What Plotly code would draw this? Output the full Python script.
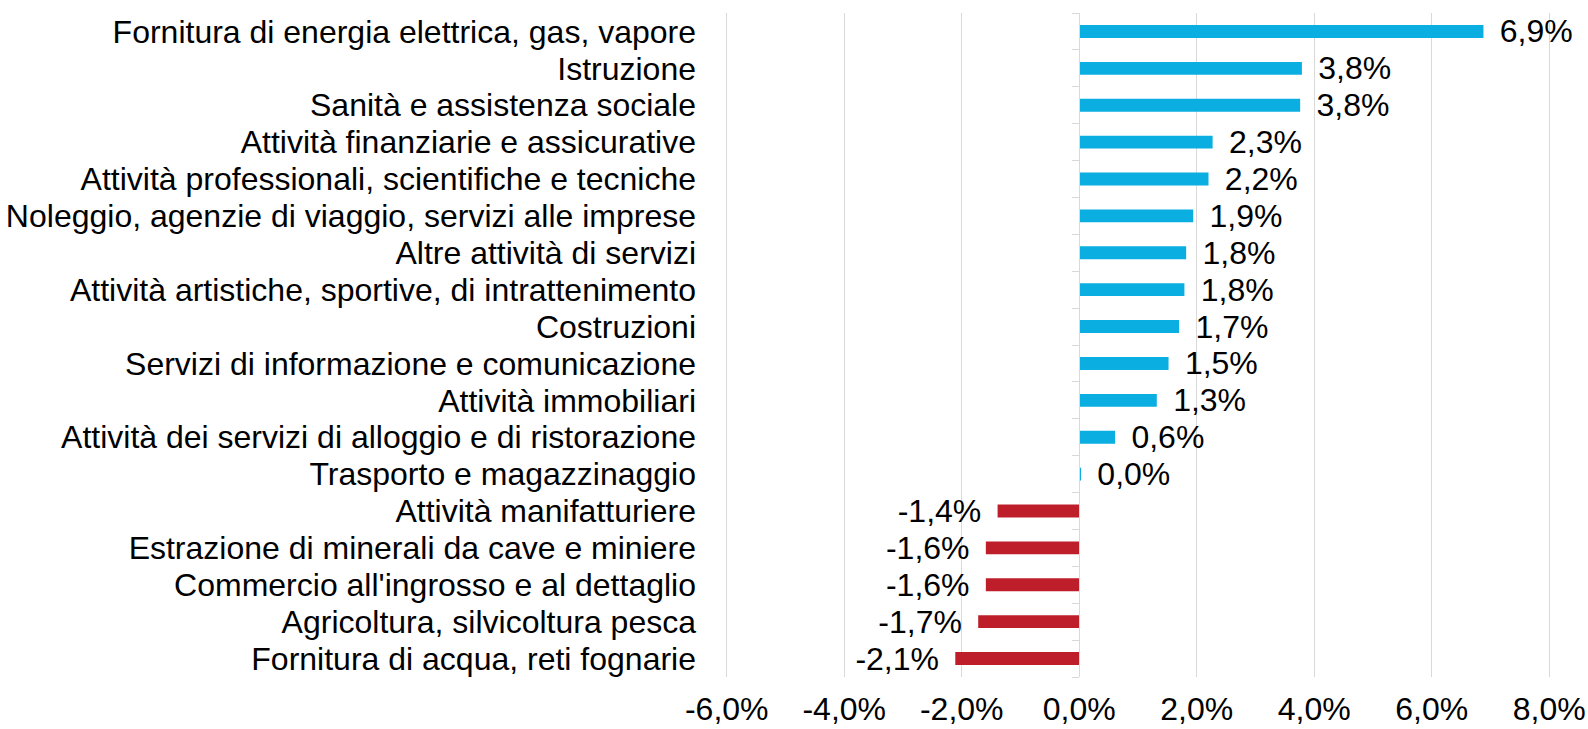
import plotly.graph_objects as go

categories = [
    "Fornitura di energia elettrica, gas, vapore",
    "Istruzione",
    "Sanità e assistenza sociale",
    "Attività finanziarie e assicurative",
    "Attività professionali, scientifiche e tecniche",
    "Noleggio, agenzie di viaggio, servizi alle imprese",
    "Altre attività di servizi",
    "Attività artistiche, sportive, di intrattenimento",
    "Costruzioni",
    "Servizi di informazione e comunicazione",
    "Attività immobiliari",
    "Attività dei servizi di alloggio e di ristorazione",
    "Trasporto e magazzinaggio",
    "Attività manifatturiere",
    "Estrazione di minerali da cave e miniere",
    "Commercio all'ingrosso e al dettaglio",
    "Agricoltura, silvicoltura pesca",
    "Fornitura di acqua, reti fognarie",
]
values = [6.88, 3.79, 3.76, 2.27, 2.20, 1.94, 1.82, 1.79, 1.70, 1.52, 1.32, 0.61, 0.03,
          -1.39, -1.59, -1.59, -1.72, -2.11]
x_ticks = [-6, -4, -2, 0, 2, 4, 6, 8]
x_tick_labels = ["-6,0%", "-4,0%", "-2,0%", "0,0%", "2,0%", "4,0%", "6,0%", "8,0%"]

BLUE = "#0AAEE1"
RED = "#BE1E2A"
FONT = "Liberation Sans, Arial"
FS = 32

colors = [BLUE if v >= 0 else RED for v in values]
SP = "\u2005\u2006"
labels = [
    (SP + f"{v:.1f}".replace(".", ",") + "%") if v >= 0
    else (f"{v:.1f}".replace(".", ",") + "%" + SP)
    for v in values
]

n = len(categories)
fig = go.Figure()
fig.add_trace(go.Bar(
    y=categories, x=values, orientation="h",
    marker=dict(color=colors, line=dict(width=0)),
    text=labels, textposition="outside", cliponaxis=False,
    constraintext="none",
    textfont=dict(family=FONT, size=FS, color="#000000"),
    width=0.35,
))
# invisible trace to carry the vertical axis drawn at zero
fig.add_trace(go.Scatter(x=[0], y=[0], yaxis="y2", mode="markers",
                         marker=dict(opacity=0), showlegend=False, hoverinfo="skip"))

fig.update_layout(
    width=1588, height=729,
    margin=dict(l=725, r=37, t=13, b=52, autoexpand=False),
    plot_bgcolor="white", paper_bgcolor="white",
    showlegend=False,
    font=dict(family=FONT, size=FS, color="#000000"),
    xaxis=dict(
        range=[-6.03, 8.03], tickvals=x_ticks, ticktext=x_tick_labels,
        showgrid=True, gridcolor="#D9D9D9", gridwidth=1.3,
        zeroline=False, showline=False, ticks="", automargin=False,
        tickfont=dict(size=FS), ticklabelstandoff=10,
    ),
    yaxis=dict(
        type="category", categoryorder="array", categoryarray=categories,
        tickmode="array", tickvals=categories, ticktext=categories,
        range=[n - 0.5, -0.5], showgrid=False, zeroline=False, showline=False,
        ticks="", tickfont=dict(size=FS), ticklabelstandoff=28, automargin=False,
    ),
    yaxis2=dict(
        overlaying="y", anchor="free", position=6.03 / 14.06, type="linear",
        range=[n - 0.5, -0.5], tickvals=[i - 0.5 for i in range(n + 1)],
        showticklabels=False, ticks="outside", ticklen=7, tickcolor="#D9D9D9",
        tickwidth=1.3, showline=True, linecolor="#D9D9D9", linewidth=1.3,
        showgrid=False, zeroline=False, side="left", automargin=False,
    ),
)
fig.write_html("out.html", config={"displayModeBar": False},
               post_script="document.body.style.margin='0';")
